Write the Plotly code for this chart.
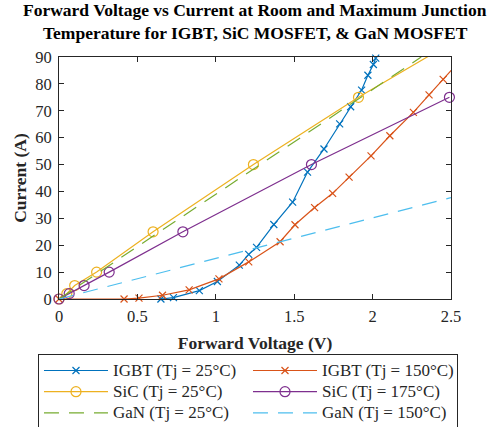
import plotly.graph_objects as go

# Forward characteristics (forward voltage in V, current in A)
igbt25_v = [0.65, 0.73, 0.895, 1.01, 1.15, 1.21, 1.26, 1.37, 1.49, 1.585, 1.69, 1.79, 1.86, 1.93, 1.97, 2.005, 2.02]
igbt25_i = [0.0, 0.5, 3.1, 6.5, 12.6, 16.6, 19.2, 27.7, 36.0, 47.2, 55.8, 65.1, 71.5, 77.7, 83.2, 87.2, 89.6]

igbt150_v = [0.0, 0.415, 0.51, 0.66, 0.83, 1.02, 1.21, 1.41, 1.505, 1.63, 1.745, 1.85, 1.99, 2.11, 2.26, 2.36, 2.45, 2.55]
igbt150_i = [0.0, 0.0, 0.3, 1.4, 3.4, 7.5, 13.8, 21.3, 27.6, 34.0, 39.3, 45.3, 53.2, 60.7, 69.4, 75.9, 81.7, 88.2]

sic25_v = [0.0, 0.05, 0.1, 0.24, 0.6, 1.24, 1.91, 2.64]
sic25_i = [0.0, 2.0, 5.0, 10.0, 25.0, 50.0, 75.0, 100.0]

sic175_v = [0.0, 0.065, 0.16, 0.32, 0.79, 1.61, 2.49]
sic175_i = [0.0, 2.0, 5.0, 10.0, 25.0, 50.0, 75.0]

gan25_v = [0.0, 1.28, 2.31]
gan25_i = [0.0, 49.8, 90.0]

gan150_v = [0.0, 1.585, 2.5]
gan150_i = [0.0, 23.8, 37.7]

x_ticks = [0, 0.5, 1, 1.5, 2, 2.5]
x_tick_text = ["0", "0.5", "1", "1.5", "2", "2.5"]
y_ticks = [0, 10, 20, 30, 40, 50, 60, 70, 80, 90]

title_lines = ["Forward Voltage vs Current at Room and Maximum Junction",
               "Temperature for IGBT, SiC MOSFET, & GaN MOSFET"]

FONT = "Liberation Serif"
AX = "#262626"

fig = go.Figure()

def add(x, y, name, color, symbol=None, dash=None, msize=8):
    # legend rows are spaced from legend.font.size; the label itself is drawn larger
    label = f'<span style="font-size:17px">{name}</span>'
    kw = dict(x=x, y=y, name=label, cliponaxis=False,
              line=dict(color=color, width=1.2, dash=dash or "solid"))
    if symbol:
        kw["mode"] = "lines+markers"
        kw["marker"] = dict(symbol=symbol, size=msize, color=color,
                            line=dict(color=color, width=1.2))
    else:
        kw["mode"] = "lines"
    fig.add_trace(go.Scatter(**kw))

add(igbt25_v, igbt25_i, "IGBT (Tj = 25°C)", "#0072BD", "x-thin-open", msize=7)
add(igbt150_v, igbt150_i, "IGBT (Tj = 150°C)", "#D95319", "x-thin-open", msize=7)
add(sic25_v, sic25_i, "SiC (Tj = 25°C)", "#EDB120", "circle-open", msize=10)
add(sic175_v, sic175_i, "SiC (Tj = 175°C)", "#7E2F8E", "circle-open", msize=10)
add(gan25_v, gan25_i, "GaN (Tj = 25°C)", "#77AC30", dash="15px,10px")
add(gan150_v, gan150_i, "GaN (Tj = 150°C)", "#4DBEEE", dash="15px,10px")

axis_common = dict(
    showline=True, linecolor=AX, linewidth=1, mirror="ticks",
    ticks="inside", ticklen=5, tickcolor=AX, showgrid=False, zeroline=False,
    tickfont=dict(family=FONT, size=16.5, color=AX),
)

# two-line bold title above the axes
title_y = [1.194, 1.101]
annotations = [
    dict(text=f"<b>{t}</b>", x=0.5, xref="paper", y=yy, yref="paper",
         xanchor="center", yanchor="middle", showarrow=False,
         font=dict(family=FONT, size=17.5, color="black"))
    for t, yy in zip(title_lines, title_y)
]

fig.update_layout(
    width=488, height=427,
    margin=dict(l=59, r=37, t=57, b=128, autoexpand=False),
    paper_bgcolor="white", plot_bgcolor="white",
    font=dict(family=FONT, color=AX),
    annotations=annotations,
    xaxis=dict(axis_common, range=[0, 2.5], tickvals=x_ticks, ticktext=x_tick_text,
               ticklabelstandoff=2,
               title=dict(text="<b>Forward Voltage (V)</b>", standoff=11,
                          font=dict(family=FONT, size=17.5, color=AX))),
    yaxis=dict(axis_common, range=[0, 90], tickvals=y_ticks,
               ticklabelstandoff=3,
               title=dict(text="<b>Current (A)</b>", standoff=4,
                          font=dict(family=FONT, size=17.5, color=AX))),
    legend=dict(
        orientation="h", xref="paper", yref="paper",
        x=-0.0536, xanchor="left", y=-0.541, yanchor="bottom",
        entrywidth=130, entrywidthmode="pixels", itemwidth=64,
        bgcolor="white", bordercolor=AX, borderwidth=1,
        font=dict(family=FONT, size=14, color=AX),
        tracegroupgap=0,
    ),
    showlegend=True,
)

fig.write_html("out.html")
